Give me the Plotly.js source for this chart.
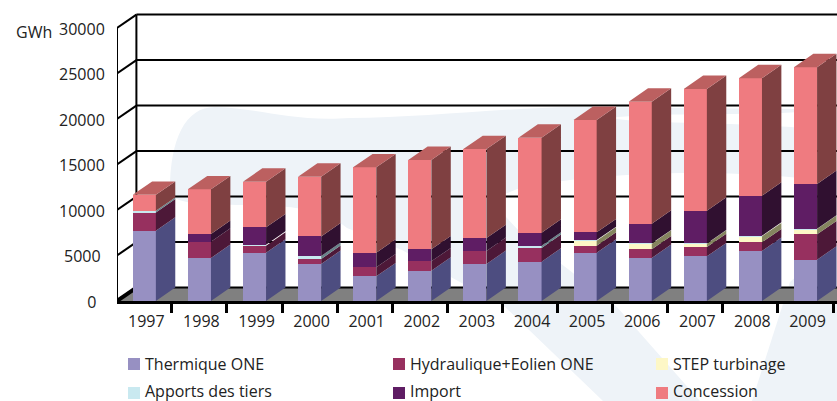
<!DOCTYPE html>
<html><head><meta charset="utf-8">
<script src="https://cdn.plot.ly/plotly-3.0.1.min.js"></script>
<style>html,body{margin:0;padding:0;background:#fff}#c{width:837px;height:401px}</style>
</head><body><div id="c"></div>
<script>
const years = ['1997','1998','1999','2000','2001','2002','2003','2004','2005','2006','2007','2008','2009'];
const thermique  = [7730,4725,5310,4066,2710,3330,4066,4320,5310,4725,4910,5495,4540];
const hydraulique= [2000,1795, 770, 549, 990,1030,1429,1505, 770, 955,1020, 955,2785];
const step       = [   0,   0,   0,   0,   0,   0,   0,   0, 550, 620, 370, 650, 585];
const apports    = [ 180,   0, 100, 330,   0,   0,   0, 255,  60,  40,  30,  80,  40];
const importE    = [   0, 840,1915,2155,1610,1320,1425,1430, 855,2160,3600,4395,4910];
const concession = [1760,4910,5015,6560,9380,9820,9780,10440,12345,13400,13370,12905,12840];
const tickValues = [0,5000,10000,15000,20000,25000,30000];
const legendNames = ['Thermique ONE','Hydraulique+Eolien ONE','STEP turbinage','Apports des tiers','Import','Concession'];
const frontColors = ['#9790c2','#97305f','#fdf7c6','#c9e9f0','#5f1d64','#ef7b80'];
const sideColors  = ['#4d4d80','#4d1838','#85855f','#68838a','#301030','#7f4041'];
const topColor = '#bc6060';
const series = [thermique,hydraulique,step,apports,importE,concession];

// scene geometry (pixels)
const W=837,H=401,L=117,B=301,pxY=0.0091,step0=55.1,c0=144.3;
const dxPx=19.4,dyPx=13.4;
const dX=dxPx/step0, dY=dyPx/pxY, barW=0.42;
const xMin=(L-c0)/step0, xMax=(W-c0)/step0, yMax=B/pxY;
const idx=years.map((_,i)=>i);
const px=x=>(x-L)/(W-L), py=y=>(B-y)/B;
const P=(x,y)=>px(x).toFixed(4)+','+py(y).toFixed(4);

const traces=[];
series.forEach((s,k)=>traces.push({type:'bar',x:idx,y:s,width:barW,name:legendNames[k],
  marker:{color:frontColors[k],line:{width:0}},hoverinfo:'name+y'}));
// side faces, from the stacked values
const base=years.map(()=>0);
series.forEach((s,k)=>{
  const xs=[],ys=[];
  s.forEach((v,i)=>{
    const r=i+barW/2,b=base[i],t=b+v;
    if(v>0){xs.push(r,r+dX,r+dX,r,r,null);ys.push(b,b+dY,t+dY,t,b,null);}
    base[i]=t;
  });
  traces.push({type:'scatter',mode:'lines',x:xs,y:ys,fill:'toself',fillcolor:sideColors[k],
    line:{width:0},showlegend:false,hoverinfo:'skip'});
});
// top faces
{const xs=[],ys=[];
 base.forEach((t,i)=>{const l=i-barW/2,r=i+barW/2;
   xs.push(l,r,r+dX,l+dX,l,null);ys.push(t,t,t+dY,t+dY,t,null);});
 traces.push({type:'scatter',mode:'lines',x:xs,y:ys,fill:'toself',fillcolor:topColor,
   line:{width:0},showlegend:false,hoverinfo:'skip'});}

const shapes=[];
// pale watermark
const pale='#eef3f8';
shapes.push({type:'path',xref:'paper',yref:'paper',layer:'below',line:{width:0},fillcolor:pale,
 path:'M'+P(170,190)+' C'+P(170,140)+' '+P(185,107)+' '+P(215,107)+' C'+P(260,108)+' '+P(290,122)+' '+P(350,118)+
 ' C'+P(420,118)+' '+P(500,108)+' '+P(575,107)+' L'+P(800,109)+' L'+P(800,112)+' C'+P(740,116)+' '+P(660,112)+' '+P(610,118)+
 ' C'+P(640,124)+' '+P(740,122)+' '+P(800,128)+' L'+P(800,178)+' C'+P(720,170)+' '+P(640,172)+' '+P(570,180)+' L'+P(525,186)+
 ' L'+P(490,200)+' L'+P(520,232)+' L'+P(617,307)+' L'+P(700,401)+' L'+P(603,401)+' L'+P(505,307)+' L'+P(402,250)+' L'+P(347,228)+
 ' C'+P(320,205)+' '+P(270,205)+' '+P(237,205)+' C'+P(205,204)+' '+P(170,205)+' '+P(170,190)+' Z'});
shapes.push({type:'path',xref:'paper',yref:'paper',layer:'below',line:{width:0},fillcolor:pale,
 path:'M'+P(790,282)+' L'+P(837,240)+' L'+P(837,401)+' L'+P(752,401)+' Z'});
const ln=(x0,y0,x1,y1,w)=>({type:'line',xref:'x',yref:'y',layer:'below',x0,y0,x1,y1,line:{color:'#000',width:w}});
// floor
shapes.push({type:'path',xref:'x',yref:'y',layer:'below',line:{width:0},fillcolor:'#808080',
 path:`M${xMin},0 L${xMin+dX},${dY} L${xMax},${dY} L${xMax},0 Z`});
// back wall, grid, side wall
tickValues.forEach(v=>{
  shapes.push(ln(xMin+dX,v+dY,xMax,v+dY,2));
  shapes.push(ln(xMin,v,xMin+dX,v+dY,v===0?4:2));
});
shapes.push(ln(xMin+dX,dY,xMin+dX,30000+dY,2));
shapes.push(ln(xMin,0,xMin,30000,2));
// legend swatches
const swX=[128,393,656], swY=[358,387], txX=[144,409,672], txY=[364,391];
legendNames.forEach((n,k)=>{
  const c=k%3,r=Math.floor(k/3);
  shapes.push({type:'rect',xref:'paper',yref:'paper',x0:px(swX[c]),x1:px(swX[c]+12),y0:py(swY[r]),y1:py(swY[r]+12),
    fillcolor:frontColors[k],line:{width:0}});
});
const font={family:'"Open Sans", sans-serif',size:16,color:'#222'};
const annotations=legendNames.map((n,k)=>{
  const c=k%3,r=Math.floor(k/3);
  return {text:n,showarrow:false,xref:'paper',yref:'paper',x:px(txX[c]),y:py(txY[r]),xanchor:'left',yanchor:'middle',borderpad:0,font};
});
annotations.push({text:'GWh',showarrow:false,xref:'paper',yref:'paper',x:px(53),y:py(32),xanchor:'right',yanchor:'middle',borderpad:0,font});

const layout={width:W,height:H,margin:{l:L,r:0,t:0,b:H-B,pad:0},showlegend:false,barmode:'stack',
 paper_bgcolor:'#fff',plot_bgcolor:'rgba(0,0,0,0)',font,
 xaxis:{range:[xMin,xMax],tickmode:'array',tickvals:idx.map(i=>i+0.036),ticktext:years,ticks:'',showgrid:false,zeroline:false,
   showline:true,linecolor:'#000',linewidth:3,ticklabelstandoff:4,
   minor:{tick0:-0.5,dtick:1,ticks:'outside',ticklen:9,tickwidth:2.5,tickcolor:'#000',showgrid:false}},
 yaxis:{range:[0,yMax],tickmode:'array',tickvals:tickValues,
   ticktext:['0\u00a0\u00a0','5000\u00a0','10000','15000','20000','25000','30000'],
   showgrid:false,zeroline:false,showline:false,ticks:'outside',ticklen:8,tickcolor:'rgba(0,0,0,0)',ticklabelshift:1},
 shapes,annotations};
Plotly.newPlot('c',traces,layout,{displayModeBar:false,responsive:false});
</script></body></html>
